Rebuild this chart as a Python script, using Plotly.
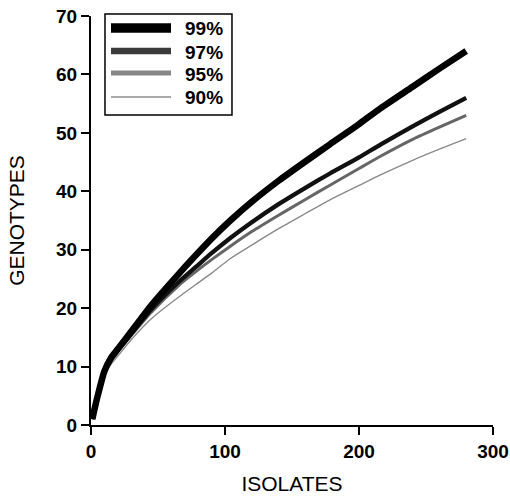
import plotly.graph_objects as go

isolates = [1, 2, 3, 5, 10, 15, 20, 30, 45, 66, 78, 90, 104, 120, 140, 160, 178, 200, 216, 240, 260, 280]
g99 = [1, 2.1, 3.1, 5.0, 9.2, 11.5, 13.0, 16.0, 20.5, 26.0, 29.0, 31.9, 35.0, 38.2, 41.8, 45.1, 48.0, 51.5, 54.2, 57.9, 61.0, 64.0]
g97 = [1, 2.1, 3.1, 5.0, 9.1, 11.3, 12.8, 15.6, 19.8, 24.6, 27.0, 29.4, 32.0, 34.7, 37.8, 40.6, 43.0, 45.8, 48.0, 51.1, 53.6, 56.0]
g95 = [1, 2.0, 3.0, 4.9, 9.0, 11.1, 12.6, 15.3, 19.3, 24.0, 26.2, 28.3, 30.6, 33.1, 35.9, 38.6, 41.0, 43.9, 46.0, 48.9, 51.0, 53.0]
g90 = [1, 2.0, 2.9, 4.6, 8.5, 10.4, 11.8, 14.6, 18.2, 22.0, 24.0, 26.0, 28.5, 30.8, 33.6, 36.2, 38.5, 41.0, 42.8, 45.3, 47.2, 49.0]

names = ["99%", "97%", "95%", "90%"]
series = [g99, g97, g95, g90]
plot_colors = ["#000000", "#111111", "#666666", "#8a8a8a"]
plot_widths = [6.5, 4.3, 3, 1.4]
leg_colors = ["#000000", "#3a3a3a", "#878787", "#8c8c8c"]
leg_widths = [9.5, 6.5, 5, 1.5]

fig = go.Figure()
for i in [3, 2, 1, 0]:
    fig.add_trace(go.Scatter(
        x=isolates, y=series[i], mode="lines", name=names[i],
        line=dict(color=plot_colors[i], width=plot_widths[i], shape="spline", smoothing=0.6),
        showlegend=False,
    ))

# legend drawn manually (box, line samples, labels) in paper coordinates
shapes = [dict(type="rect", xref="paper", yref="paper", x0=0.0348, x1=0.3507, y0=0.758, y1=1.005,
               line=dict(color="black", width=1.5), fillcolor="white", layer="above")]
annotations = []
row_y = [0.9707, 0.9144, 0.8606, 0.8020]
for i in range(4):
    shapes.append(dict(type="line", xref="paper", yref="paper", x0=0.0498, x1=0.199,
                       y0=row_y[i], y1=row_y[i], line=dict(color=leg_colors[i], width=leg_widths[i]),
                       layer="above"))
    annotations.append(dict(xref="paper", yref="paper", x=0.2289, y=row_y[i], xanchor="left",
                            yanchor="middle", yshift=-1, text=names[i], showarrow=False,
                            font=dict(size=19, weight="bold", color="black")))

fig.update_layout(
    width=510, height=496,
    margin=dict(l=91, r=17, t=16, b=71),
    paper_bgcolor="white", plot_bgcolor="white",
    font=dict(family="Liberation Sans, Arial, sans-serif", color="black"),
    showlegend=False,
    shapes=shapes, annotations=annotations,
    xaxis=dict(
        range=[0, 300], tickvals=[0, 100, 200, 300], automargin=False,
        showline=True, linecolor="black", linewidth=2,
        ticks="outside", ticklen=8, tickwidth=2, tickcolor="black",
        showgrid=False, zeroline=False, ticklabeloverflow="allow",
        tickfont=dict(size=19, weight="bold", color="black"),
        title=dict(text="ISOLATES", font=dict(size=21, color="black"), standoff=16),
    ),
    yaxis=dict(
        range=[0, 70], tickvals=[0, 10, 20, 30, 40, 50, 60, 70], automargin=False,
        showline=True, linecolor="black", linewidth=2,
        ticks="outside", ticklen=8, tickwidth=2, tickcolor="black",
        showgrid=False, zeroline=False, ticklabeloverflow="allow",
        tickfont=dict(size=19, weight="bold", color="black"),
        title=dict(text="GENOTYPES", font=dict(size=21, color="black"), standoff=26),
    ),
)

fig.write_html(
    "out.html",
    config={"displayModeBar": False},
    post_script="document.body.style.margin='0px';document.body.style.overflow='hidden';",
)
